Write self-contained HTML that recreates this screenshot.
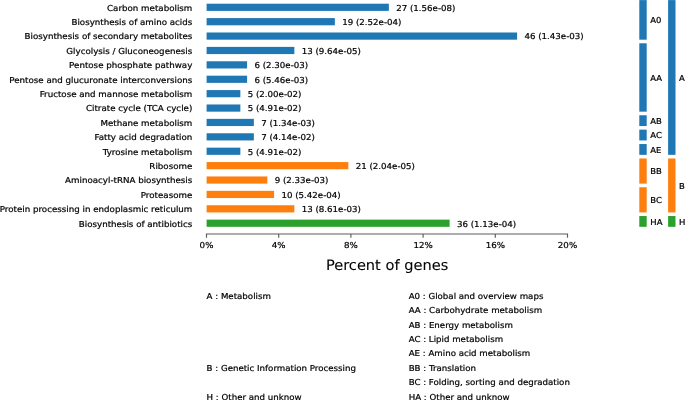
<!DOCTYPE html><html><head><meta charset="utf-8"><title>KEGG enrichment</title><style>html,body{margin:0;padding:0;background:#fff}body{width:685px;height:400px;overflow:hidden}svg{display:block;will-change:transform;transform:translateZ(0)}text{font-family:"DejaVu Sans","Liberation Sans",sans-serif;fill:#000;stroke:#000;stroke-width:.22px;text-rendering:geometricPrecision}</style></head><body>
<svg width="685" height="400" viewBox="0 0 685 400">
<rect width="685" height="400" fill="#fff"/>
<g font-size="8.7">
<rect x="206.6" y="3.70" width="182.25" height="7.19" fill="#1f77b4"/>
<text transform="translate(192.30 10.98) scale(1.0 0.94)" text-anchor="end">Carbon metabolism</text>
<text transform="translate(396.25 10.98) scale(1 0.947)" font-size="8.655">27 (1.56e-08)</text>
<rect x="206.6" y="18.10" width="128.25" height="7.19" fill="#1f77b4"/>
<text transform="translate(192.30 24.98) scale(1.0 0.94)" text-anchor="end">Biosynthesis of amino acids</text>
<text transform="translate(342.25 24.98) scale(1 0.947)" font-size="8.655">19 (2.52e-04)</text>
<rect x="206.6" y="32.49" width="310.50" height="7.19" fill="#1f77b4"/>
<text transform="translate(192.30 38.98) scale(1.0 0.94)" text-anchor="end">Biosynthesis of secondary metabolites</text>
<text transform="translate(524.50 38.98) scale(1 0.947)" font-size="8.655">46 (1.43e-03)</text>
<rect x="206.6" y="46.89" width="87.75" height="7.19" fill="#1f77b4"/>
<text transform="translate(192.30 53.98) scale(1.0 0.94)" text-anchor="end">Glycolysis / Gluconeogenesis</text>
<text transform="translate(301.75 53.98) scale(1 0.947)" font-size="8.655">13 (9.64e-05)</text>
<rect x="206.6" y="61.28" width="40.50" height="7.19" fill="#1f77b4"/>
<text transform="translate(192.30 67.98) scale(1.0 0.94)" text-anchor="end">Pentose phosphate pathway</text>
<text transform="translate(254.50 67.98) scale(1 0.947)" font-size="8.655">6 (2.30e-03)</text>
<rect x="206.6" y="75.68" width="40.50" height="7.19" fill="#1f77b4"/>
<text transform="translate(192.30 82.98) scale(1.0 0.94)" text-anchor="end">Pentose and glucuronate interconversions</text>
<text transform="translate(254.50 82.98) scale(1 0.947)" font-size="8.655">6 (5.46e-03)</text>
<rect x="206.6" y="90.08" width="33.75" height="7.19" fill="#1f77b4"/>
<text transform="translate(192.30 96.98) scale(1.0 0.94)" text-anchor="end">Fructose and mannose metabolism</text>
<text transform="translate(247.75 96.98) scale(1 0.947)" font-size="8.655">5 (2.00e-02)</text>
<rect x="206.6" y="104.47" width="33.75" height="7.19" fill="#1f77b4"/>
<text transform="translate(192.30 110.98) scale(1.0 0.94)" text-anchor="end">Citrate cycle (TCA cycle)</text>
<text transform="translate(247.75 110.98) scale(1 0.947)" font-size="8.655">5 (4.91e-02)</text>
<rect x="206.6" y="118.86" width="47.25" height="7.19" fill="#1f77b4"/>
<text transform="translate(192.30 125.98) scale(1.0 0.94)" text-anchor="end">Methane metabolism</text>
<text transform="translate(261.25 125.98) scale(1 0.947)" font-size="8.655">7 (1.34e-03)</text>
<rect x="206.6" y="133.26" width="47.25" height="7.19" fill="#1f77b4"/>
<text transform="translate(192.30 139.98) scale(1.0 0.94)" text-anchor="end">Fatty acid degradation</text>
<text transform="translate(261.25 139.98) scale(1 0.947)" font-size="8.655">7 (4.14e-02)</text>
<rect x="206.6" y="147.66" width="33.75" height="7.19" fill="#1f77b4"/>
<text transform="translate(192.30 154.98) scale(1.0 0.94)" text-anchor="end">Tyrosine metabolism</text>
<text transform="translate(247.75 154.98) scale(1 0.947)" font-size="8.655">5 (4.91e-02)</text>
<rect x="206.6" y="162.05" width="141.75" height="7.19" fill="#ff7f0e"/>
<text transform="translate(192.30 168.98) scale(1.0 0.94)" text-anchor="end">Ribosome</text>
<text transform="translate(355.75 168.98) scale(1 0.947)" font-size="8.655">21 (2.04e-05)</text>
<rect x="206.6" y="176.45" width="60.75" height="7.19" fill="#ff7f0e"/>
<text transform="translate(192.30 182.98) scale(1.0 0.94)" text-anchor="end">Aminoacyl-tRNA biosynthesis</text>
<text transform="translate(274.75 182.98) scale(1 0.947)" font-size="8.655">9 (2.33e-03)</text>
<rect x="206.6" y="190.84" width="67.50" height="7.19" fill="#ff7f0e"/>
<text transform="translate(192.30 197.98) scale(1.0 0.94)" text-anchor="end">Proteasome</text>
<text transform="translate(281.50 197.98) scale(1 0.947)" font-size="8.655">10 (5.42e-04)</text>
<rect x="206.6" y="205.24" width="87.75" height="7.19" fill="#ff7f0e"/>
<text transform="translate(192.30 211.98) scale(1.0 0.94)" text-anchor="end">Protein processing in endoplasmic reticulum</text>
<text transform="translate(301.75 211.98) scale(1 0.947)" font-size="8.655">13 (8.61e-03)</text>
<rect x="206.6" y="219.63" width="243.00" height="7.19" fill="#2ca02c"/>
<text transform="translate(192.30 226.98) scale(1.0 0.94)" text-anchor="end">Biosynthesis of antibiotics</text>
<text transform="translate(457.00 226.98) scale(1 0.947)" font-size="8.655">36 (1.13e-04)</text>
<path d="M205.93 233.95H568.07" stroke="#5c5c5c" stroke-width="1.15" fill="none"/>
<path d="M206.50 233.95v3.75" stroke="#5c5c5c" stroke-width="1.15" fill="none"/>
<text transform="translate(206.50 247.98) scale(1.0 0.94)" text-anchor="middle">0%</text>
<path d="M278.70 233.95v3.75" stroke="#5c5c5c" stroke-width="1.15" fill="none"/>
<text transform="translate(278.70 247.98) scale(1.0 0.94)" text-anchor="middle">4%</text>
<path d="M350.90 233.95v3.75" stroke="#5c5c5c" stroke-width="1.15" fill="none"/>
<text transform="translate(350.90 247.98) scale(1.0 0.94)" text-anchor="middle">8%</text>
<path d="M423.10 233.95v3.75" stroke="#5c5c5c" stroke-width="1.15" fill="none"/>
<text transform="translate(423.10 247.98) scale(1.0 0.94)" text-anchor="middle">12%</text>
<path d="M495.30 233.95v3.75" stroke="#5c5c5c" stroke-width="1.15" fill="none"/>
<text transform="translate(495.30 247.98) scale(1.0 0.94)" text-anchor="middle">16%</text>
<path d="M567.50 233.95v3.75" stroke="#5c5c5c" stroke-width="1.15" fill="none"/>
<text transform="translate(567.50 247.98) scale(1.0 0.94)" text-anchor="middle">20%</text>
<text transform="translate(206.60 298.98) scale(1 0.947)" font-size="8.655">A : Metabolism</text>
<text transform="translate(206.60 370.98) scale(1 0.947)" font-size="8.655">B : Genetic Information Processing</text>
<text transform="translate(206.60 399.98) scale(1 0.947)" font-size="8.655">H : Other and unknow</text>
<text transform="translate(408.65 298.98) scale(1 0.947)" font-size="8.655">A0 : Global and overview maps</text>
<text transform="translate(408.65 312.98) scale(1 0.947)" font-size="8.655">AA : Carbohydrate metabolism</text>
<text transform="translate(408.65 327.98) scale(1 0.947)" font-size="8.655">AB : Energy metabolism</text>
<text transform="translate(408.65 341.98) scale(1 0.947)" font-size="8.655">AC : Lipid metabolism</text>
<text transform="translate(408.65 355.98) scale(1 0.947)" font-size="8.655">AE : Amino acid metabolism</text>
<text transform="translate(408.65 370.98) scale(1 0.947)" font-size="8.655">BB : Translation</text>
<text transform="translate(408.65 384.98) scale(1 0.947)" font-size="8.655">BC : Folding, sorting and degradation</text>
<text transform="translate(408.65 399.98) scale(1 0.947)" font-size="8.655">HA : Other and unknow</text>
<rect x="639.3" y="0.10" width="7.4" height="39.58" fill="#1f77b4"/>
<text transform="translate(650.30 22.98) scale(1 0.97)" font-size="8.45">A0</text>
<rect x="639.3" y="43.29" width="7.4" height="68.37" fill="#1f77b4"/>
<text transform="translate(650.30 80.98) scale(1 0.97)" font-size="8.45">AA</text>
<rect x="639.3" y="115.26" width="7.4" height="10.79" fill="#1f77b4"/>
<text transform="translate(650.30 123.98) scale(1 0.97)" font-size="8.45">AB</text>
<rect x="639.3" y="129.66" width="7.4" height="10.79" fill="#1f77b4"/>
<text transform="translate(650.30 137.98) scale(1 0.97)" font-size="8.45">AC</text>
<rect x="639.3" y="144.05" width="7.4" height="10.79" fill="#1f77b4"/>
<text transform="translate(650.30 152.98) scale(1 0.97)" font-size="8.45">AE</text>
<rect x="639.3" y="158.45" width="7.4" height="25.19" fill="#ff7f0e"/>
<text transform="translate(650.30 173.98) scale(1 0.97)" font-size="8.45">BB</text>
<rect x="639.3" y="187.24" width="7.4" height="25.19" fill="#ff7f0e"/>
<text transform="translate(650.30 202.98) scale(1 0.97)" font-size="8.45">BC</text>
<rect x="639.3" y="216.03" width="7.4" height="10.79" fill="#2ca02c"/>
<text transform="translate(650.30 224.98) scale(1 0.97)" font-size="8.45">HA</text>
<rect x="668.1" y="0.10" width="7.4" height="154.74" fill="#1f77b4"/>
<text transform="translate(679.10 80.98) scale(1 0.97)" font-size="8.45">A</text>
<rect x="668.1" y="158.45" width="7.4" height="53.98" fill="#ff7f0e"/>
<text transform="translate(679.10 188.98) scale(1 0.97)" font-size="8.45">B</text>
<rect x="668.1" y="216.03" width="7.4" height="10.79" fill="#2ca02c"/>
<text transform="translate(679.10 224.98) scale(1 0.97)" font-size="8.45">H</text>
</g>
<text transform="translate(387.1 269.9) scale(1 0.985)" text-anchor="middle" font-size="14.6" style="stroke-width:.08px">Percent of genes</text>
</svg></body></html>
